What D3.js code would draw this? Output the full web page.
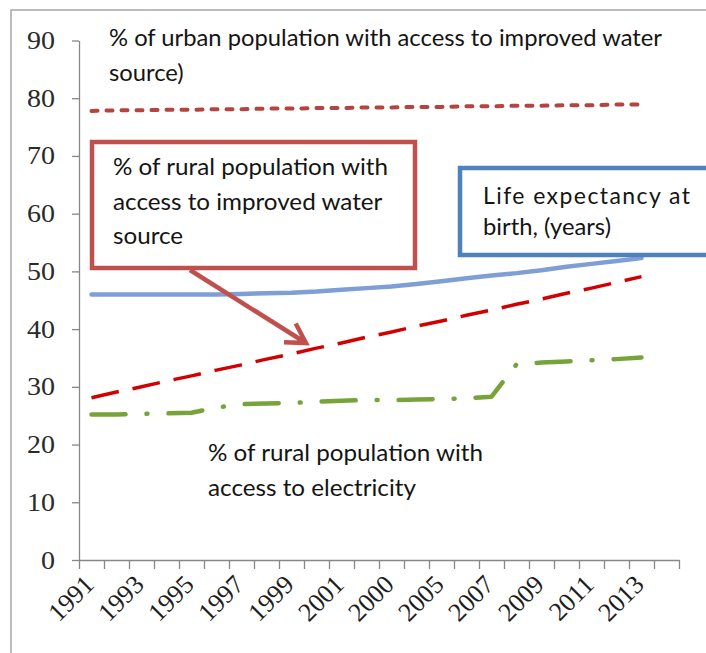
<!DOCTYPE html>
<html>
<head>
<meta charset="utf-8">
<script src="https://cdn.jsdelivr.net/npm/d3@7"></script>
<style>
  html, body { margin: 0; padding: 0; background: #fff; }
  svg { display: block; }
</style>
</head>
<body>
<svg id="chart" width="706" height="653"></svg>
<script>
// Category slots on the x axis (the last slot is left empty)
const years = d3.range(1991, 2015);
// Years that carry observations
const dataYears = d3.range(1991, 2014);
// Every second slot is labelled
const tickYears = [1991, 1993, 1995, 1997, 1999, 2001, 2003, 2005, 2007, 2009, 2011, 2013];
const tickLabels = ["1991", "1993", "1995", "1997", "1999", "2001", "2000", "2005", "2007", "2009", "2011", "2013"];
const yTicks = [0, 10, 20, 30, 40, 50, 60, 70, 80, 90];

// % of urban population with access to improved water source
const urbanWater = [77.8, 77.9, 77.9, 78.0, 78.0, 78.1, 78.1, 78.2, 78.2, 78.3, 78.3, 78.4,
                    78.4, 78.5, 78.5, 78.6, 78.6, 78.7, 78.7, 78.8, 78.8, 78.9, 78.9];
// % of rural population with access to improved water source
const ruralWater = [28.1, 29.1, 30.0, 31.0, 31.9, 32.9, 33.8, 34.8, 35.7, 36.7, 37.6, 38.6,
                    39.5, 40.5, 41.4, 42.4, 43.3, 44.3, 45.2, 46.2, 47.1, 48.1, 49.1];
// Life expectancy at birth (years)
const lifeExpectancy = [46.0, 46.0, 46.0, 46.0, 46.0, 46.0, 46.1, 46.2, 46.3, 46.5, 46.8, 47.1,
                        47.4, 47.8, 48.3, 48.8, 49.3, 49.7, 50.2, 50.8, 51.3, 51.8, 52.3];
// % of rural population with access to electricity
const ruralElectricity = [25.2, 25.2, 25.3, 25.4, 25.5, 26.4, 27.0, 27.1, 27.2, 27.4, 27.6, 27.7,
                          27.7, 27.8, 27.9, 28.0, 28.3, 33.9, 34.2, 34.4, 34.6, 34.8, 35.1];

const svg = d3.select("#chart");

// outer frame of the chart area
svg.append("rect")
  .attr("x", 11).attr("y", 10).attr("width", 800).attr("height", 800)
  .attr("fill", "none").attr("stroke", "#a6a6a6").attr("stroke-width", 1.5);

const x = d3.scaleBand().domain(years).range([79, 679]).paddingInner(0).paddingOuter(0);
const xc = yr => x(yr) + x.bandwidth() / 2;
const xEdge = d3.scaleLinear().domain([0, years.length]).range([79, 679]);
const y = d3.scaleLinear().domain([0, 90]).range([560, 40.5]);

const axisColor = "#878787";
const serif = "'Liberation Serif', 'Times New Roman', serif";

// x axis: tick marks between categories
const gx = svg.append("g").attr("transform", "translate(0,560)")
  .call(d3.axisBottom(xEdge).tickValues(d3.range(0, years.length + 1)).tickSize(9).tickSizeOuter(0).tickFormat(""));
gx.selectAll("path, line").attr("stroke", axisColor).attr("stroke-width", 1.3);

// x labels, rotated
svg.append("g").selectAll("text")
  .data(tickYears)
  .join("text")
  .attr("transform", d => `translate(${xc(d) + 4},586) rotate(-45)`)
  .attr("text-anchor", "end")
  .attr("font-family", serif)
  .attr("font-size", 26)
  .attr("fill", "#1e1e1e")
  .text((d, i) => tickLabels[i]);

// y axis
const gy = svg.append("g").attr("transform", "translate(79,0)")
  .call(d3.axisLeft(y).tickValues(yTicks).tickSize(7).tickSizeOuter(0).tickPadding(17));
gy.selectAll("path, line").attr("stroke", axisColor).attr("stroke-width", 1.3);
gy.selectAll("text")
  .attr("font-family", serif)
  .attr("font-size", 25)
  .attr("fill", "#2a2a2a")
  .each(function () {
    // slightly wider digits
    const w = this.getComputedTextLength();
    d3.select(this).attr("textLength", w * 1.12).attr("lengthAdjust", "spacingAndGlyphs");
  });

// series
const line = d3.line().x((d, i) => xc(dataYears[i])).y(d => y(d));

const series = [
  { values: urbanWater, color: "#b5433f", width: 4, dash: "6,9", cap: "round" },
  { values: lifeExpectancy, color: "#7f9ed5", width: 4.5, dash: null, cap: "round" },
  { values: ruralWater, color: "#d20000", width: 3.5, dash: "28,14", cap: "butt" },
  { values: ruralElectricity, color: "#77a33b", width: 4.5, dash: "34,21,1,21", cap: "round" }
];

svg.append("g").selectAll("path")
  .data(series)
  .join("path")
  .attr("d", s => line(s.values))
  .attr("fill", "none")
  .attr("stroke", s => s.color)
  .attr("stroke-width", s => s.width)
  .attr("stroke-dasharray", s => s.dash)
  .attr("stroke-linecap", s => s.cap)
  .attr("stroke-linejoin", "round");

// annotation text helper: all lines share one horizontal scale,
// chosen so that line `refIndex` spans `refWidth`; an optional justified line gets `justify` width
const textFont = "Lato, 'Open Sans', sans-serif";
function textBlock(lines, x0, baselines, size, refIndex, refWidth, justify) {
  const g = svg.append("g");
  const nodes = lines.map((t, i) => g.append("text")
    .attr("x", x0).attr("y", baselines[i])
    .attr("font-family", textFont).attr("font-size", size)
    .attr("fill", "#141414").text(t));
  const sx = refWidth / nodes[refIndex].node().getComputedTextLength();
  nodes.forEach((n, i) => {
    if (justify && justify.index === i) {
      n.attr("textLength", justify.width).attr("lengthAdjust", "spacing");
    } else {
      const w = n.node().getComputedTextLength();
      n.attr("textLength", w * sx).attr("lengthAdjust", "spacingAndGlyphs");
    }
  });
  return g;
}

// top note
textBlock(["% of urban population with access to improved water", "source)"],
  109, [46, 81], 24, 0, 553);

// red box with arrow
svg.append("rect")
  .attr("x", 92).attr("y", 142).attr("width", 323).attr("height", 126)
  .attr("fill", "#fff").attr("stroke", "#c0504d").attr("stroke-width", 4.5);
textBlock(["% of rural population with", "access to improved water", "source"],
  113, [175, 210, 244], 24, 0, 275);

svg.append("path")
  .attr("d", "M190,270 L306,343 M295.7,323.5 L306,343 L284,342.2")
  .attr("fill", "none").attr("stroke", "#c0504d").attr("stroke-width", 4.5)
  .attr("stroke-linejoin", "miter").attr("stroke-linecap", "butt");

// blue box
svg.append("rect")
  .attr("x", 460).attr("y", 168).attr("width", 300).attr("height", 87)
  .attr("fill", "#fff").attr("stroke", "#4f81bd").attr("stroke-width", 4.5);
textBlock(["Life expectancy at", "birth, (years)"], 483, [204, 235], 23, 1, 128,
  { index: 0, width: 207 });

// electricity note
textBlock(["% of rural population with", "access to electricity"], 208, [461, 496], 24, 0, 275);
</script>
</body>
</html>
